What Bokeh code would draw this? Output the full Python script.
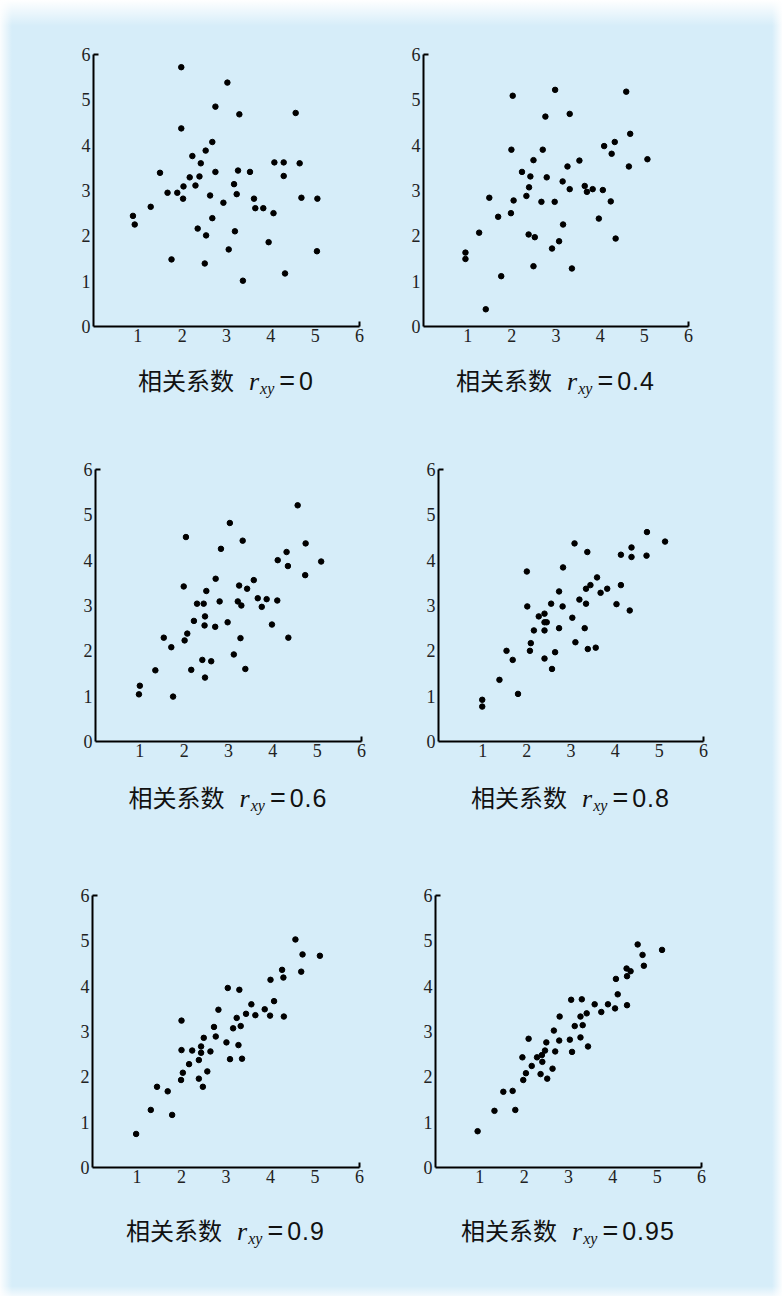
from bokeh.plotting import figure
from bokeh.layouts import column, row
from bokeh.models import Range1d, FixedTicker, Div
from bokeh.embed import file_html
from bokeh.resources import INLINE

# ---------------- data ----------------
x_r00 = [1.98,3.02,2.75,3.29,4.56,1.98,2.68,2.53,2.23,2.42,1.50,2.75,3.26,3.53,4.08,4.29,4.65,4.29,2.17,2.39,
         2.30,3.17,2.03,1.67,1.89,2.02,2.63,3.23,3.62,4.69,5.05,2.93,1.29,0.89,0.93,3.65,3.83,4.06,2.68,2.35,
         2.54,3.19,3.95,3.05,5.04,1.76,2.51,4.32,3.37]
y_r00 = [5.72,5.38,4.85,4.68,4.71,4.37,4.07,3.88,3.76,3.60,3.39,3.41,3.44,3.41,3.62,3.62,3.60,3.32,3.29,3.31,
         3.11,3.14,3.09,2.95,2.95,2.82,2.89,2.92,2.82,2.84,2.82,2.73,2.64,2.44,2.25,2.61,2.61,2.50,2.39,2.16,
         2.01,2.10,1.86,1.70,1.66,1.48,1.39,1.17,1.01]

x_r04 = [2.98,2.02,4.59,2.76,3.31,4.68,4.33,4.09,1.99,2.70,4.26,2.49,3.53,5.07,3.26,4.65,2.23,2.42,2.79,3.15,
         2.39,3.65,3.31,3.83,3.70,4.06,2.33,1.49,2.04,2.67,2.97,4.24,1.98,1.69,3.97,3.16,1.26,2.38,2.52,4.35,
         2.91,3.07,0.95,0.95,2.49,3.36,1.76,1.41]
y_r04 = [5.22,5.09,5.18,4.63,4.69,4.25,4.07,3.98,3.90,3.90,3.81,3.67,3.66,3.69,3.53,3.53,3.41,3.31,3.29,3.20,
         3.07,3.10,3.03,3.03,2.97,3.01,2.88,2.84,2.78,2.75,2.75,2.76,2.50,2.42,2.38,2.25,2.07,2.03,1.97,1.94,
         1.72,1.88,1.63,1.49,1.33,1.28,1.11,0.38]

x_r06 = [4.56,3.03,2.04,3.32,4.74,2.83,4.31,4.11,5.09,4.34,4.73,2.71,3.57,1.99,3.24,3.42,2.50,3.66,3.86,2.80,
         3.21,4.10,2.29,2.44,3.29,3.75,2.47,2.22,2.98,3.98,2.46,2.70,2.07,1.54,3.27,4.35,2.01,1.71,3.12,1.35,
         2.16,3.38,2.41,2.61,2.47,1.00,0.98,1.75]
y_r06 = [5.21,4.82,4.51,4.43,4.37,4.25,4.18,4.00,3.97,3.87,3.67,3.59,3.56,3.42,3.44,3.37,3.32,3.16,3.14,3.09,
         3.09,3.11,3.04,3.04,3.00,2.97,2.76,2.66,2.63,2.58,2.56,2.53,2.38,2.29,2.28,2.29,2.23,2.08,1.92,1.57,
         1.58,1.60,1.80,1.77,1.41,1.23,1.04,0.99]

x_r08 = [4.72,5.13,3.08,4.37,3.37,4.13,4.71,4.37,2.82,2.00,3.59,3.44,4.13,3.34,3.82,3.67,2.73,3.19,2.55,3.34,
         4.03,2.01,2.81,4.33,2.40,2.27,3.03,2.40,2.45,2.16,2.40,2.73,3.31,2.09,3.10,2.07,1.54,3.38,3.56,2.64,
         1.68,2.40,2.57,1.38,1.80,0.99,0.99]
y_r08 = [4.62,4.41,4.37,4.28,4.18,4.12,4.10,4.07,3.84,3.75,3.62,3.45,3.45,3.37,3.37,3.28,3.31,3.13,3.04,3.04,
         3.03,2.98,2.98,2.89,2.82,2.76,2.73,2.63,2.63,2.45,2.45,2.50,2.50,2.17,2.19,2.00,2.00,2.04,2.07,1.97,
         1.80,1.83,1.60,1.36,1.05,0.92,0.77]

x_r09 = [4.56,4.72,5.11,4.26,4.69,4.29,4.00,3.04,3.30,4.08,3.57,3.87,2.83,3.45,3.66,3.99,4.30,3.24,2.00,3.33,
         2.73,3.16,2.77,2.50,3.01,2.44,3.28,2.00,2.24,2.65,2.44,2.39,3.09,3.36,2.17,2.58,2.03,1.99,2.39,1.45,
         2.48,1.69,1.31,1.79,0.98]
y_r09 = [5.03,4.70,4.67,4.36,4.32,4.19,4.14,3.96,3.92,3.67,3.60,3.49,3.48,3.39,3.36,3.35,3.33,3.30,3.24,3.12,
         3.10,3.07,2.89,2.86,2.76,2.67,2.70,2.59,2.58,2.56,2.53,2.37,2.39,2.40,2.28,2.12,2.09,1.93,1.96,1.78,
         1.78,1.68,1.27,1.16,0.74]

x_r095 = [4.56,5.11,4.67,4.70,4.31,4.40,4.32,4.07,4.11,3.06,3.30,3.59,3.89,4.32,4.05,3.74,3.41,2.80,3.27,3.14,
          3.32,2.67,2.10,3.27,2.79,3.03,2.50,3.44,2.47,2.70,3.08,2.40,2.29,1.96,2.41,2.17,2.64,2.04,2.37,2.52,
          1.98,1.74,1.53,1.33,1.80,0.95]
y_r095 = [4.92,4.80,4.69,4.45,4.39,4.33,4.22,4.16,3.82,3.70,3.71,3.60,3.60,3.58,3.51,3.43,3.40,3.33,3.33,3.12,
          3.14,3.02,2.84,2.87,2.80,2.82,2.76,2.67,2.58,2.56,2.55,2.48,2.43,2.43,2.33,2.24,2.18,2.08,2.06,1.96,
          1.93,1.69,1.67,1.25,1.27,0.80]

r_labels = ["0", "0.4", "0.6", "0.8", "0.9", "0.95"]
caption_word = "相关系数"
x_ticks = [1, 2, 3, 4, 5, 6]
y_ticks = [0, 1, 2, 3, 4, 5, 6]
end_ticks = [6]

# ---------------- styling ----------------
BG = "#d6edf9"
TICK_FONT = "Liberation Serif"
CJK_FONT = "Noto Sans CJK SC"
W = 391
AXIS_BOTTOM = 30
FRAME_H = 272


def make_panel(xs, ys, left, right, top):
    p = figure(width=W, height=top + FRAME_H + AXIS_BOTTOM, output_backend="svg", toolbar_location=None,
               x_range=Range1d(0, 6), y_range=Range1d(0, 6),
               min_border_left=left, min_border_right=right,
               min_border_top=top, min_border_bottom=AXIS_BOTTOM)
    p.background_fill_color = None
    p.border_fill_color = None
    p.outline_line_color = None
    p.grid.visible = False
    for ax, ticks in ((p.xaxis[0], x_ticks), (p.yaxis[0], y_ticks)):
        ax.ticker = FixedTicker(ticks=ticks, minor_ticks=end_ticks)
        ax.axis_line_width = 2
        ax.axis_line_color = "black"
        ax.major_tick_in = 0
        ax.major_tick_out = 0
        ax.minor_tick_in = 5
        ax.minor_tick_out = 0
        ax.minor_tick_line_width = 2
        ax.minor_tick_line_color = "black"
        ax.major_label_text_font = TICK_FONT
        ax.major_label_text_font_size = "18px"
        ax.major_label_text_color = "#222222"
    p.xaxis.major_label_standoff = 2
    p.yaxis.major_label_standoff = 3
    p.scatter(xs, ys, size=5.5, color="black", line_color="black")
    return p


def make_caption(rlab, left, right, height, baseline):
    frame_w = W - left - right
    cx = left + frame_w / 2.0
    shift = 2 * cx - W
    pad_l = max(0, shift)
    pad_r = max(0, -shift)
    pad_t = baseline - 27
    html = (
        f'<span style="font-family:\'{CJK_FONT}\';font-size:24px;">{caption_word}</span>'
        f'<span style="font-family:\'Liberation Serif\';font-style:italic;font-size:26px;margin-left:15px;">r</span>'
        f'<span style="font-family:\'Liberation Serif\';font-style:italic;font-size:16px;position:relative;top:4px;margin-left:1px;">xy</span>'
        f'<span style="font-family:\'Liberation Sans\';font-size:27px;margin-left:5px;">=</span>'
        f'<span style="font-family:\'Liberation Sans\';font-size:25px;margin-left:4px;letter-spacing:1px;">{rlab}</span>'
    )
    d = Div(text=html, width=W, height=height, margin=(0, 0, 0, 0),
            styles={"text-align": "center", "color": "#111111", "white-space": "nowrap",
                    "line-height": "33px", "box-sizing": "border-box",
                    "padding-top": f"{pad_t}px", "padding-left": f"{pad_l}px",
                    "padding-right": f"{pad_r}px"})
    return d


def cell(xs, ys, rlab, left, right, top, row_h, baseline):
    p = make_panel(xs, ys, left, right, top)
    cap_h = row_h - (top + FRAME_H + AXIS_BOTTOM)
    c = make_caption(rlab, left, right, cap_h, baseline - AXIS_BOTTOM)
    return column(p, c, spacing=0)


c1 = cell(x_r00, y_r00, r_labels[0], 93, 32, 54, 430, 64)
c2 = cell(x_r04, y_r04, r_labels[1], 32, 94, 54, 430, 64)
c3 = cell(x_r06, y_r06, r_labels[2], 95, 30, 39, 425, 66)
c4 = cell(x_r08, y_r08, r_labels[3], 47, 79, 39, 425, 66)
c5 = cell(x_r09, y_r09, r_labels[4], 92, 32, 40, 441, 73)
c6 = cell(x_r095, y_r095, r_labels[5], 44, 81, 40, 441, 73)

bg_css = ("linear-gradient(to bottom, rgba(255,255,255,1) 0px, rgba(255,255,255,0) 26px), "
          "linear-gradient(to right, rgba(255,255,255,0.9) 0px, rgba(255,255,255,0) 12px, "
          "rgba(255,255,255,0) calc(100% - 10px), rgba(255,255,255,0.9) 100%), "
          f"linear-gradient(to top, rgba(255,255,255,0.7) 0px, rgba(255,255,255,0) 10px), {BG}")

layout = column(row(c1, c2, spacing=0), row(c3, c4, spacing=0), row(c5, c6, spacing=0),
                spacing=0, styles={"background": bg_css})

open("out.html", "w").write(file_html(layout, INLINE))
